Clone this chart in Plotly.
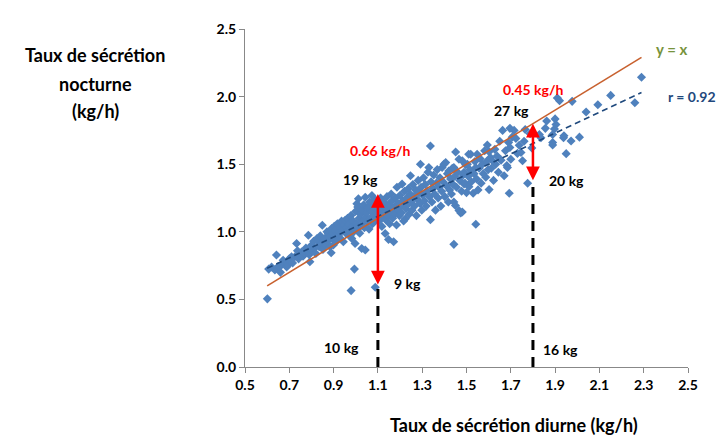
import plotly.graph_objects as go

# daytime (x) vs night-time (y) secretion rates, kg/h
day_rate = [
    0.601, 0.607, 0.62, 0.635, 0.642, 0.65, 0.66, 0.665, 0.672, 0.68, 0.688, 0.695, 0.70, 0.703,
    0.71, 0.715, 0.725, 0.733, 0.737, 0.742, 0.748, 0.755, 0.762, 0.77, 0.775, 0.778, 0.786, 0.79, 0.793, 0.797,
    0.80, 0.805, 0.81, 0.815, 0.82, 0.825, 0.831, 0.835, 0.84, 0.845, 0.849, 0.852, 0.856, 0.861, 0.865,
    0.87, 0.873, 0.876, 0.88, 0.884, 0.889, 0.891, 0.894, 0.897, 0.899,
    0.903, 0.906, 0.91, 0.913, 0.917, 0.922, 0.925, 0.929, 0.932, 0.936, 0.94, 0.944, 0.948, 0.952, 0.955,
    0.959, 0.963, 0.967, 0.97, 0.974, 0.978, 0.979, 0.982, 0.985, 0.988, 0.991, 0.994, 0.997, 0.999,
    1.003, 1.005, 1.008, 1.009, 1.012, 1.015, 1.018, 1.021, 1.024, 1.027, 1.03, 1.033, 1.036, 1.039, 1.043,
    1.043, 1.046, 1.05, 1.053, 1.056, 1.06, 1.063, 1.066, 1.07, 1.073, 1.076, 1.08, 1.083, 1.086, 1.088,
    1.09, 1.093, 1.097,
    1.102, 1.105, 1.108, 1.112, 1.115, 1.118, 1.122, 1.125, 1.128, 1.133, 1.135, 1.138, 1.141, 1.145, 1.148,
    1.15, 1.153, 1.157, 1.16, 1.164, 1.167, 1.171, 1.173, 1.176, 1.18, 1.184, 1.186, 1.19, 1.193, 1.197,
    1.20, 1.203, 1.206, 1.209, 1.212, 1.216, 1.22, 1.224, 1.227, 1.23, 1.234, 1.238, 1.241, 1.245, 1.247,
    1.25, 1.254, 1.258, 1.262, 1.265, 1.27, 1.274, 1.278, 1.282, 1.286, 1.29, 1.292, 1.295, 1.298,
    1.302, 1.306, 1.31, 1.314, 1.318, 1.322, 1.326, 1.33, 1.333, 1.337, 1.337, 1.34, 1.344, 1.348, 1.352,
    1.356, 1.36, 1.364, 1.368, 1.372, 1.376, 1.38, 1.384, 1.388, 1.39, 1.394, 1.398,
    1.402, 1.406, 1.41, 1.414, 1.418, 1.42, 1.424, 1.428, 1.432, 1.436, 1.44, 1.443, 1.443, 1.443, 1.447,
    1.45, 1.451, 1.455, 1.46, 1.466, 1.466, 1.47, 1.474, 1.478, 1.481, 1.481, 1.485, 1.489, 1.489, 1.493, 1.496,
    1.50, 1.504, 1.508, 1.511, 1.51, 1.515, 1.519, 1.522, 1.53, 1.534, 1.538, 1.542, 1.542, 1.546, 1.548,
    1.552, 1.557, 1.562, 1.566, 1.572, 1.576, 1.582, 1.587, 1.59, 1.594, 1.598,
    1.602, 1.602, 1.608, 1.612, 1.617, 1.622, 1.628, 1.632, 1.638, 1.644, 1.65, 1.656, 1.663, 1.67, 1.676,
    1.682, 1.685, 1.69, 1.693, 1.696, 1.696,
    1.70, 1.706, 1.715, 1.723, 1.73, 1.738, 1.746, 1.753, 1.76, 1.765, 1.776, 1.787, 1.795,
    1.829, 1.836, 1.856, 1.862, 1.889, 1.889, 1.889, 1.897, 1.904, 1.90, 1.91, 1.92, 1.938, 1.94, 1.95,
    1.972, 1.977,
    2.01, 2.04, 2.093, 2.151, 2.26, 2.29,
]
night_rate = [
    0.504, 0.724, 0.74, 0.718, 0.828, 0.743, 0.70, 0.755, 0.79, 0.767, 0.74, 0.755, 0.80, 0.779,
    0.816, 0.77, 0.816, 0.914, 0.86, 0.80, 0.828, 0.85, 0.82, 0.84, 0.88, 0.865, 0.975, 0.83, 0.779, 0.87,
    0.90, 0.86, 0.93, 0.88, 0.84, 0.95, 0.926, 0.89, 0.97, 0.91, 1.048, 0.87, 0.94, 0.951, 0.90,
    1.00, 0.93, 0.987, 0.96, 0.89, 0.845, 1.024, 0.95, 0.99, 0.902,
    1.04, 0.97, 1.01, 0.93, 1.06, 0.975, 1.00, 1.036, 0.95, 1.08, 1.01, 0.926, 1.05, 1.085, 0.99,
    1.03, 1.10, 1.012, 1.06, 0.97, 1.12, 0.565, 0.951, 1.04, 1.08, 1.00, 0.724, 0.914, 1.15,
    1.06, 1.207, 1.02, 1.183, 1.244, 1.10, 0.99, 1.13, 1.05, 0.877, 1.16, 1.08, 1.20, 1.03, 1.256,
    0.865, 1.11, 1.14, 1.07, 1.18, 1.02, 1.22, 1.10, 1.15, 1.268, 1.06, 1.19, 1.12, 1.24, 0.59,
    1.09, 1.17, 1.13,
    1.21, 1.08, 1.15, 1.25, 1.11, 1.04, 1.19, 1.14, 1.22, 0.987, 1.09, 1.17, 1.26, 1.12, 0.943,
    1.20, 1.06, 1.15, 1.28, 1.23, 1.10, 0.926, 1.18, 1.13, 1.25, 1.05, 1.329, 1.21, 1.16, 1.12,
    1.27, 1.19, 1.14, 1.354, 1.23, 1.08, 1.30, 1.097, 1.17, 1.25, 1.20, 1.32, 1.13, 1.28, 1.415,
    1.22, 1.16, 1.35, 1.26, 1.19, 1.31, 1.12, 1.24, 1.38, 1.29, 1.21, 1.50, 1.33, 1.16,
    1.27, 1.40, 1.23, 1.35, 1.19, 1.30, 1.44, 1.476, 1.26, 1.635, 1.09, 1.37, 1.22, 1.32, 1.42,
    1.28, 1.16, 1.36, 1.46, 1.25, 1.33, 1.40, 1.19, 1.30, 1.476, 1.37, 1.50,
    1.26, 1.512, 1.34, 1.43, 1.22, 1.45, 1.31, 1.39, 1.28, 1.47, 1.35, 0.907, 1.22, 1.476, 1.41,
    1.195, 1.59, 1.33, 1.44, 1.158, 1.537, 1.38, 1.139, 1.30, 1.146, 1.525, 1.42, 1.354, 1.44, 1.36, 1.496,
    1.29, 1.50, 1.41, 1.334, 1.574, 1.46, 1.574, 1.37, 1.285, 1.43, 1.52, 1.056, 1.476, 1.39, 1.574,
    1.31, 1.47, 1.54, 1.36, 1.50, 1.43, 1.60, 1.403, 1.52, 1.642, 1.46,
    1.312, 1.593, 1.55, 1.47, 1.525, 1.38, 1.61, 1.50, 1.56, 1.44, 1.67, 1.53, 1.75, 1.415, 1.60,
    1.49, 1.476, 1.66, 1.285, 1.623, 1.765,
    1.537, 1.70, 1.75, 1.691, 1.58, 1.64, 1.586, 1.525, 1.67, 1.757, 1.359, 1.725, 1.62,
    1.72, 1.696, 1.765, 1.82, 1.66, 1.642, 1.72, 1.76, 1.794, 1.835, 1.99, 1.97, 1.696, 1.71, 1.578,
    1.672, 1.965,
    1.70, 1.886, 1.94, 2.009, 1.955, 2.143,
]

# y = x reference and fitted trend (r = 0.92)
identity_x = [0.60, 2.29]
trend_x = [0.60, 2.29]
trend_y = [0.73, 2.03]

# the two highlighted individuals: day rate, low / high night value
marker_x = [1.1, 1.8]
arrow_low = [0.60, 1.37]
arrow_high = [1.28, 1.80]

fig = go.Figure()
fig.add_trace(go.Scatter(x=day_rate, y=night_rate, mode="markers",
                         marker=dict(symbol="diamond", size=7, color="#4F81BD", line=dict(width=0))))
fig.add_trace(go.Scatter(x=identity_x, y=identity_x, mode="lines",
                         line=dict(color="#C8612F", width=1.6)))
fig.add_trace(go.Scatter(x=trend_x, y=trend_y, mode="lines",
                         line=dict(color="#1F497D", width=1.6, dash="6px,4px")))
for mx, lo in zip(marker_x, arrow_low):
    fig.add_trace(go.Scatter(x=[mx, mx], y=[0, lo], mode="lines",
                             line=dict(color="black", width=3, dash="10px,7px")))

for mx, lo, hi in zip(marker_x, arrow_low, arrow_high):
    fig.add_annotation(x=mx, y=hi, ax=mx, ay=lo, xref="x", yref="y", axref="x", ayref="y",
                       text="", showarrow=True, arrowhead=2, arrowside="end+start",
                       arrowsize=1.1, arrowwidth=2.5, arrowcolor="#FF0000")

bold = dict(family="Lato", size=14, color="black")
red = dict(family="Lato", size=14, color="#FF0000")
labels = [
    (1.108, 1.60, "<b>0.66 kg/h</b>", red),
    (1.02, 1.39, "<b>19 kg</b>", bold),
    (1.235, 0.615, "<b>9 kg</b>", bold),
    (0.935, 0.147, "<b>10 kg</b>", bold),
    (1.80, 2.05, "<b>0.45 kg/h</b>", red),
    (1.705, 1.90, "<b>27 kg</b>", bold),
    (1.95, 1.378, "<b>20 kg</b>", bold),
    (1.924, 0.127, "<b>16 kg</b>", bold),
    (2.426, 2.35, "<b>y = x</b>", dict(family="Lato", size=15, color="#77933C")),
]
for lx, ly, txt, fnt in labels:
    fig.add_annotation(x=lx, y=ly, text=txt, showarrow=False, font=fnt)
# r label sits right of the x range, so it is placed in paper coordinates
fig.add_annotation(xref="paper", yref="paper", x=1.068, y=0.80, xanchor="right",
                   yanchor="middle", text="<b>r = 0.92</b>", showarrow=False,
                   font=dict(family="Lato", size=14, color="#1F497D"))

# y axis title, three lines placed left of the tick labels
title_font = dict(family="Lato", size=18, color="black")
for line, ty in zip(["Taux de sécrétion", "nocturne", "(kg/h)"], [0.9235, 0.838, 0.756]):
    fig.add_annotation(xref="paper", yref="paper", x=-0.3386, y=ty, xanchor="center",
                       yanchor="middle", text=f"<b>{line}</b>", showarrow=False, font=title_font)
fig.add_annotation(xref="paper", yref="paper", x=0.607, y=-0.1706, xanchor="center",
                   yanchor="middle", text="<b>Taux de sécrétion diurne (kg/h)</b>",
                   showarrow=False, font=title_font)

axis = dict(showgrid=False, zeroline=False, showline=True, linecolor="#888888", linewidth=1,
            ticks="outside", ticklen=5, tickcolor="#888888",
            tickfont=dict(family="Lato", size=14, color="black", weight="bold"))
fig.update_xaxes(range=[0.5, 2.5], tickvals=[0.5, 0.7, 0.9, 1.1, 1.3, 1.5, 1.7, 1.9, 2.1, 2.3, 2.5],
                 tickformat=".1f", **axis)
fig.update_yaxes(range=[0, 2.5], dtick=0.5, tickformat=".1f", **axis)
# page body keeps an 8px margin, so the figure is 8px smaller and the margins shifted
fig.update_layout(width=720, height=431, showlegend=False,
                  plot_bgcolor="white", paper_bgcolor="white",
                  margin=dict(l=237, r=40, t=19, b=72))
fig.write_html("out.html")
